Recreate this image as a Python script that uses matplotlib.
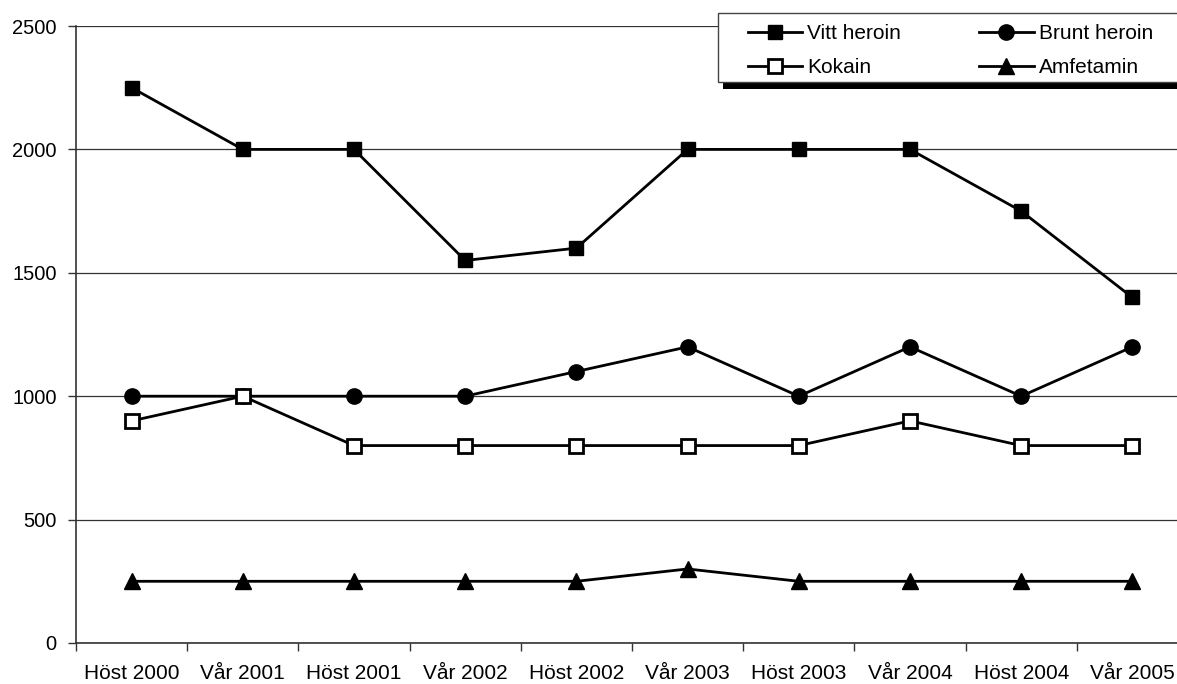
import matplotlib.pyplot as plt
from matplotlib.patches import Rectangle
import numpy as np

plt.rcParams['font.family'] = ['Liberation Sans', 'DejaVu Sans']

periods = ['Höst 2000', 'Vår 2001', 'Höst 2001', 'Vår 2002', 'Höst 2002',
           'Vår 2003', 'Höst 2003', 'Vår 2004', 'Höst 2004', 'Vår 2005']
vitt_heroin = [2250, 2000, 2000, 1550, 1600, 2000, 2000, 2000, 1750, 1400]
brunt_heroin = [1000, 1000, 1000, 1000, 1100, 1200, 1000, 1200, 1000, 1200]
kokain = [900, 1000, 800, 800, 800, 800, 800, 900, 800, 800]
amfetamin = [250, 250, 250, 250, 250, 300, 250, 250, 250, 250]

W, H = 1177, 684
fig = plt.figure(figsize=(W / 100, H / 100), dpi=100)
# plot area runs past the right edge of the image, as in the original
ax = fig.add_axes([76 / W, 1 - 643 / H, (1188 - 76) / W, (643 - 26) / H])

x = np.arange(len(periods))
l1, = ax.plot(x, vitt_heroin, color='black', lw=2, marker='s', ms=10, mfc='black', label='Vitt heroin', zorder=4)
l2, = ax.plot(x, brunt_heroin, color='black', lw=2, marker='o', ms=11, mfc='black', label='Brunt heroin', zorder=4)
l3, = ax.plot(x, kokain, color='black', lw=2, marker='s', ms=10, mfc='white', mew=2, label='Kokain', zorder=4)
l4, = ax.plot(x, amfetamin, color='black', lw=2, marker='^', ms=11, mfc='black', label='Amfetamin', zorder=4)

ax.set_xlim(-0.5, len(periods) - 0.5)
ax.set_ylim(0, 2500)
ax.set_yticks(np.arange(0, 2501, 500))
ax.set_xticks(x)
ax.set_xticklabels(periods)
ax.set_xticks(np.arange(-0.5, len(periods), 1), minor=True)
ax.tick_params(axis='x', which='major', length=0, pad=15, labelsize=15)
ax.tick_params(axis='x', which='minor', length=5.8, direction='out', width=1, color='#333333')
ax.tick_params(axis='y', length=5.8, direction='out', width=1, color='#333333', labelsize=14.5, pad=8)

ax.grid(axis='y', color='#333333', lw=0.9)
ax.set_axisbelow(True)
for s in ['top', 'right']:
    ax.spines[s].set_visible(False)
ax.spines['left'].set_color('#333333')
ax.spines['bottom'].set_color('#333333')
ax.spines['left'].set_linewidth(1.2)
ax.spines['bottom'].set_linewidth(1.2)

# legend box and its shadow, drawn in pixel coordinates
fig.patches.append(Rectangle((723, H - 89), 500, 6, transform=None,
                             facecolor='black', edgecolor='none', zorder=8))
fig.patches.append(Rectangle((718, H - 82), 500, 69, transform=None,
                             facecolor='white', edgecolor='#444444', lw=1.0, zorder=9))

leg = fig.legend([l1, l3, l2, l4], ['Vitt heroin', 'Kokain', 'Brunt heroin', 'Amfetamin'],
                 loc='upper left', bbox_to_anchor=(748 / W, 1 - 24 / H),
                 ncol=2, fontsize=15, handlelength=2.6, handletextpad=0.25, columnspacing=3.75,
                 frameon=False, borderpad=0, labelspacing=0.74, borderaxespad=0)
leg.set_zorder(10)

fig.savefig('out.png', dpi=100)
